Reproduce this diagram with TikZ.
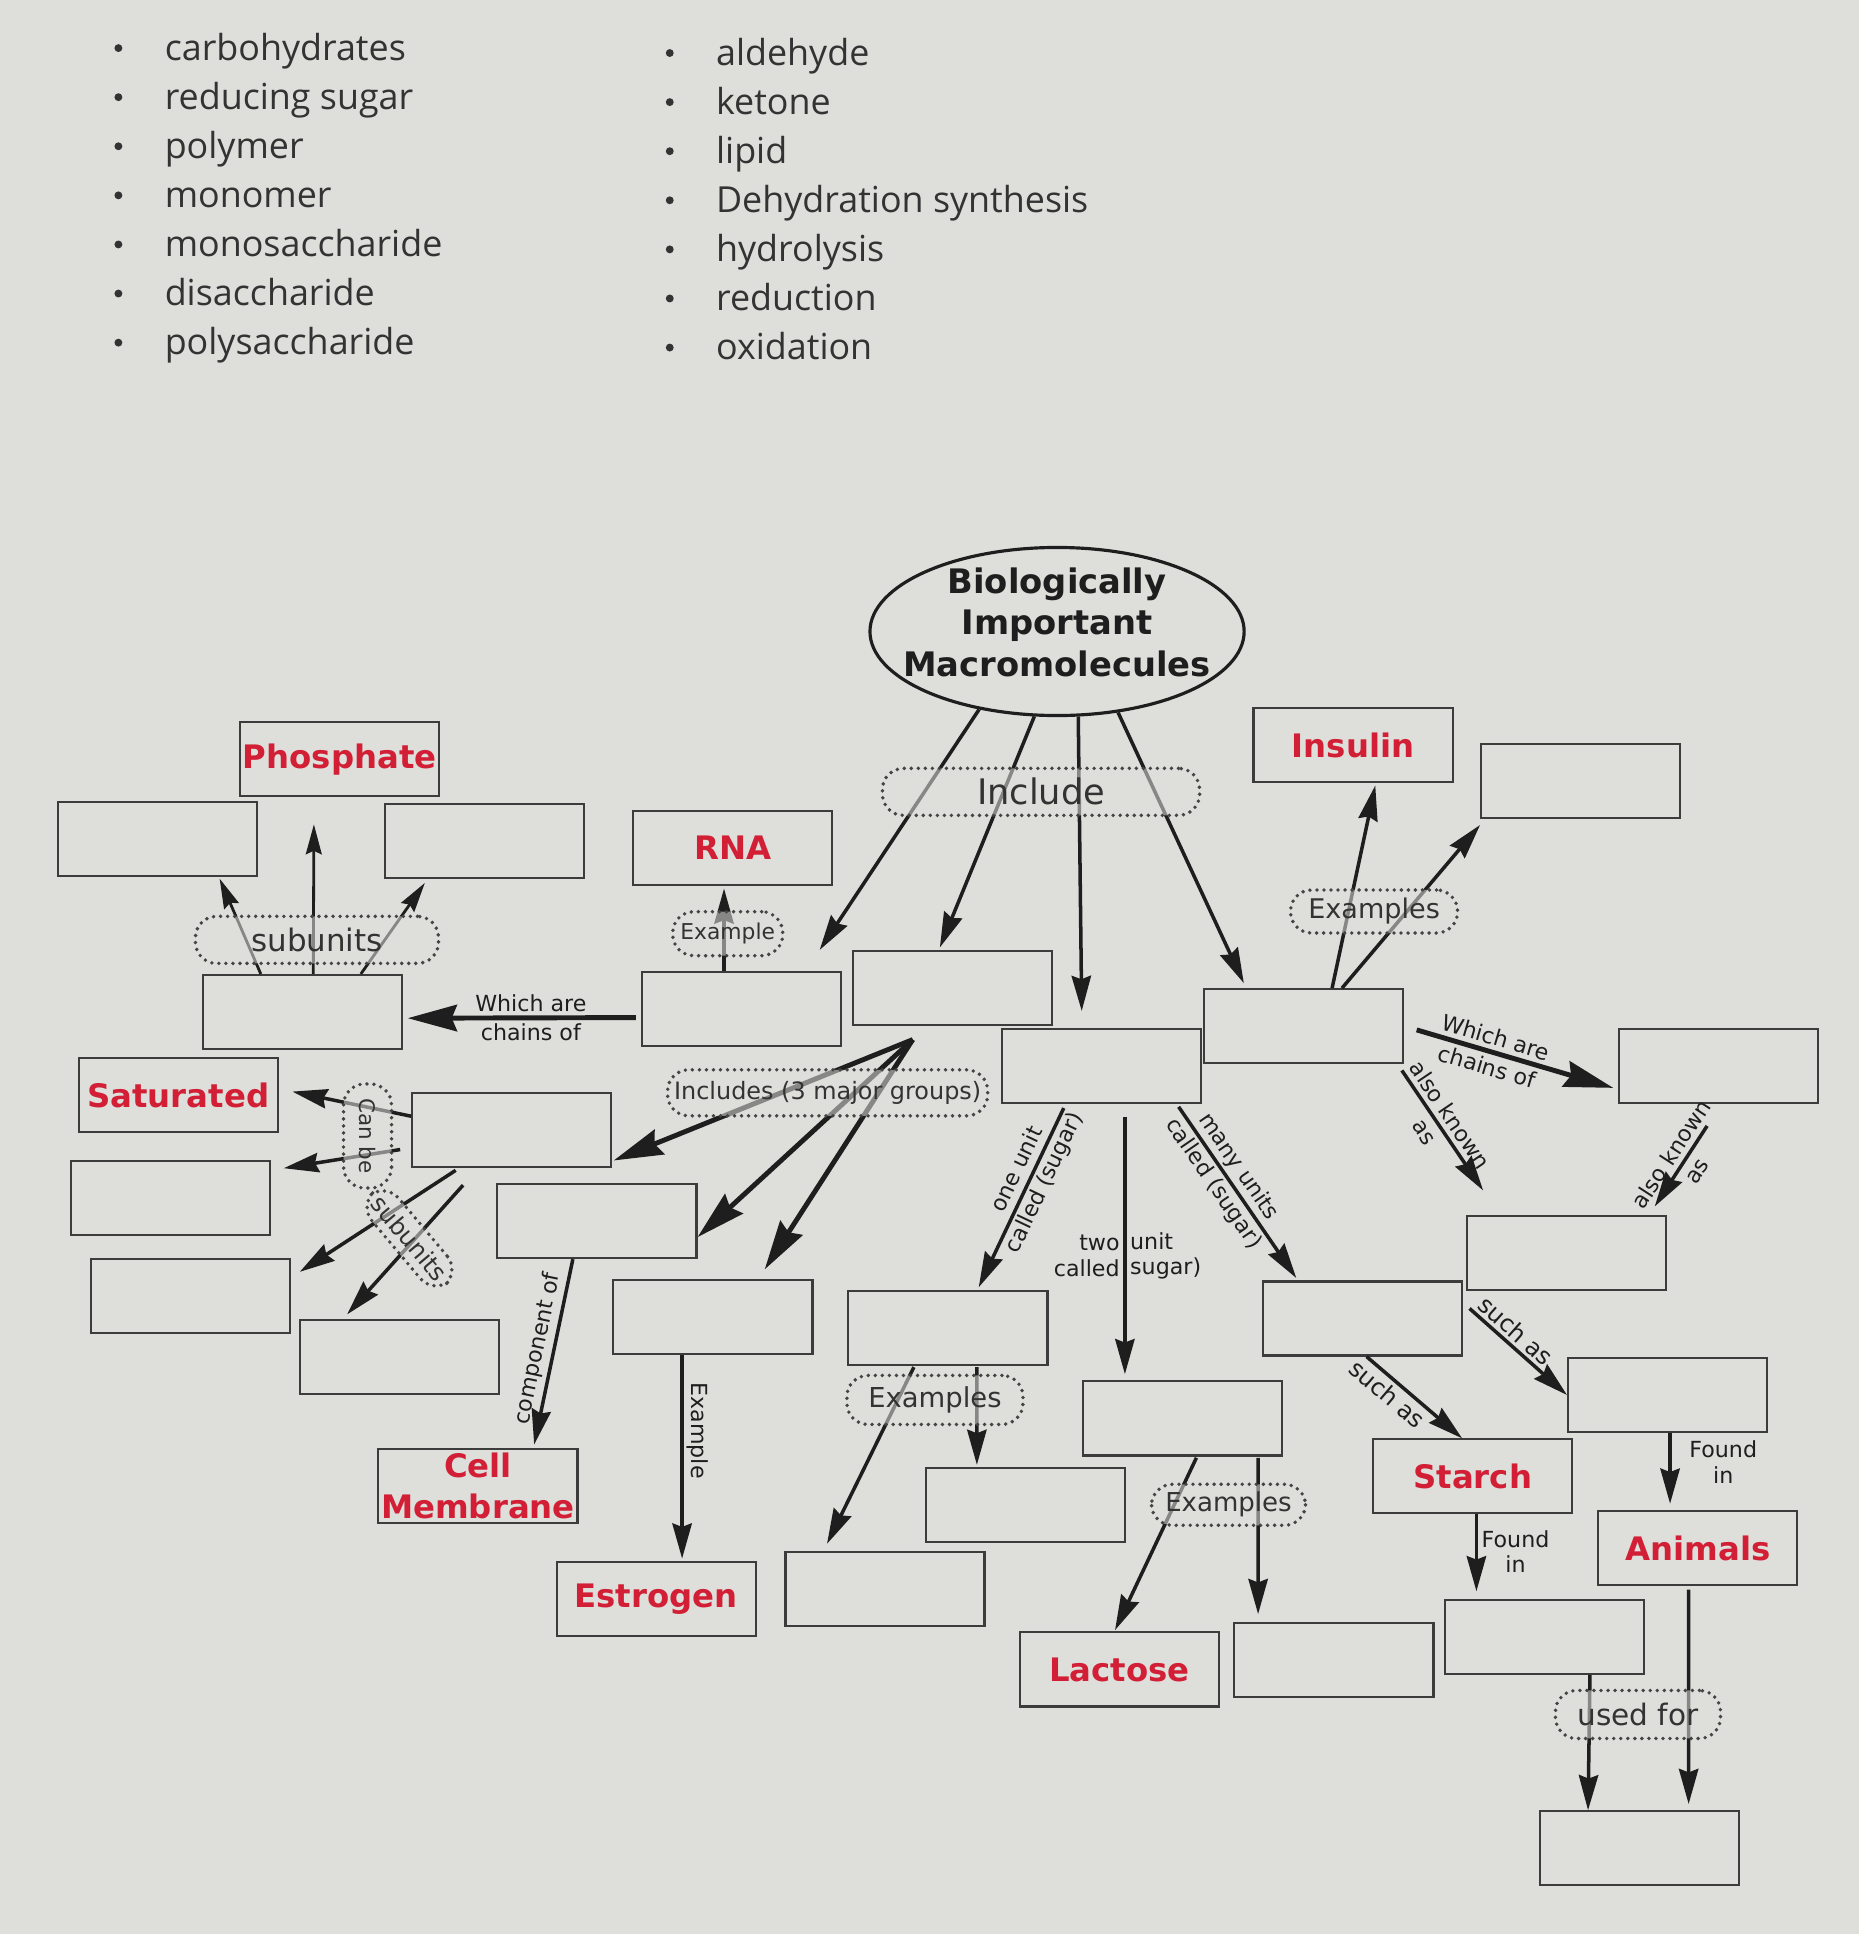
\documentclass[tikz,border=0pt]{standalone}
\usepackage{fontspec}
\setmainfont{DejaVu Sans}
\newfontfamily\listfont{Open Sans}
\usetikzlibrary{arrows.meta,positioning,calc,shapes.geometric}
\definecolor{MapBg}{HTML}{DEDFDB}
\definecolor{MapLine}{HTML}{3C3C3C}
\definecolor{MapRed}{HTML}{D21F35}
\definecolor{MapText}{HTML}{1E1E1E}
\definecolor{MapSoft}{HTML}{333333}
\definecolor{MapDots}{HTML}{444444}

\begin{document}
\begin{tikzpicture}[x=0.012336cm,y=-0.012336cm,
    blank/.style={draw=MapLine,line width=0.6pt,minimum width=1.99cm,
                  minimum height=0.74cm,inner sep=0pt},
    term/.style={blank,text=MapRed,align=center,
                 font=\fontsize{9.2}{11.6}\selectfont\bfseries},
    link/.style={draw=MapDots,line width=1.1pt,dash pattern=on 0pt off 2pt,
                 line cap=round,rounded corners=6pt,fill=MapBg,fill opacity=0.55,
                 text opacity=1,text=MapSoft,inner sep=0pt},
    flow/.style={-{Stealth[length=10pt,width=5.5pt,inset=1pt]},line width=1pt,draw=MapText},
    heavy/.style={flow,-{Stealth[length=14pt,width=7.5pt,inset=1.5pt]},line width=1.4pt},
    fine/.style={flow,-{Stealth[length=8.5pt,width=4.5pt,inset=1pt]},line width=0.8pt},
    tag/.style={font=\fontsize{6.3}{7.2}\selectfont,text=MapText,inner sep=1pt,align=center},
    pair/.style={tag,font=\fontsize{6.3}{8.6}\selectfont,inner sep=0pt},
    item/.style={font=\listfont\fontsize{10.2}{12}\selectfont,text=MapSoft,
                 anchor=base west,inner sep=0pt}]
  % background and word bank
  \fill[MapBg] (0,0) rectangle (1507,1568);
  \foreach \w [count=\i] in {carbohydrates,reducing sugar,polymer,monomer,
      monosaccharide,disaccharide,polysaccharide}{
    \fill[MapSoft] (96,{39+39.8*(\i-1)}) circle[radius=3.2];
    \node[item] (wordL\i) at (133,{49+39.8*(\i-1)}) {\w};
  }
  \foreach \w [count=\i] in {aldehyde,ketone,lipid,Dehydration synthesis,
      hydrolysis,reduction,oxidation}{
    \fill[MapSoft] (543,{43+39.8*(\i-1)}) circle[radius=3.2];
    \node[item] (wordR\i) at (580,{53+39.8*(\i-1)}) {\w};
  }

  % concept map
  \node[draw=MapText,line width=0.9pt,ellipse,minimum width=3.74cm,minimum height=1.68cm,
        inner sep=0pt,label={[align=center,text=MapText,yshift=2.6pt,
        font=\fontsize{9.6}{11.9}\selectfont\bfseries]center:Biologically\\Important\\Macromolecules}]
        (mm) at (857,512) {};
  \node[term]  (phos)     at (275.5,615.5)  {Phosphate};
  \node[blank] (sugarL)   at (127.5,680.5)  {};
  \node[blank] (baseR)    at (393,682)      {};
  \node[term]  (rna)      at (594,687.5)    {RNA};
  \node[term]  (insulin)  at (1097,604)     {Insulin};
  \node[blank] (hormone)  at (1281.5,633)   {};
  \node[blank] (nucleo)   at (245,820.5)    {};
  \node[blank] (nucleic)  at (601,818)      {};
  \node[blank] (lipid)    at (772,801)      {};
  \node[blank] (carb)     at (893,864.5)    {};
  \node[blank] (protein)  at (1057,832)     {};
  \node[term]  (sat)      at (144.5,888)    {Saturated};
  \node[blank] (fatty)    at (415,916)      {};
  \node[blank] (unsat)    at (138.5,971)    {};
  \node[blank] (glycerol) at (154.5,1051)   {};
  \node[blank] (acid)     at (324,1100.5)   {};
  \node[blank] (phosph)   at (484,990)      {};
  \node[blank] (steroid)  at (578,1068)     {};
  \node[blank] (amino)    at (1393.5,864)   {};
  \node[blank] (peptide)  at (1270,1016)    {};
  \node[blank] (mono)     at (768.5,1076.5) {};
  \node[blank] (di)       at (958.5,1150)   {};
  \node[blank] (poly)     at (1104.5,1069)  {};
  \node[blank] (glycogen) at (1352,1131)    {};
  \node[term]  (starch)   at (1194,1197)    {Starch};
  \node[term]  (animals)  at (1376.5,1255)  {Animals};
  \node[blank] (monoA)    at (831.5,1220.5) {};
  \node[blank] (monoB)    at (717.5,1288.5) {};
  \node[term]  (cell)     at (387.5,1205)   {Cell\\Membrane};
  \node[term]  (estrogen) at (532,1296.5)   {Estrogen};
  \node[term]  (lactose)  at (907.5,1353.5) {Lactose};
  \node[blank] (diB)      at (1081.5,1345.5){};
  \node[blank] (plants)   at (1252.5,1327)  {};
  \node[blank] (energy)   at (1329.5,1498.5){};

  % from the title
  \draw[flow] (mm.225) -- ($(nucleic.north east)+(-18,-17)$);
  \draw[flow] (mm.255) -- ($(lipid.north)+(-10,-2)$);
  \draw[flow] (mm.284) -- ($(carb.north)+(-16,-14)$);
  \draw[flow] (mm.307) -- ($(protein.north west)+(33,-4)$);

  % proteins
  \draw[flow] ($(protein.north)+(23,0)$) -- ($(insulin.south)+(18,2)$);
  \draw[flow] ($(protein.north)+(31,0)$) -- ($(hormone.south west)+(0,5)$);
  \draw[heavy] ($(protein.east)+(10,3)$) -- node[pair,pos=.38,sloped]{Which are\\chains of}
    ($(amino.west)+(-4,18)$);
  \draw[flow] ($(protein.south east)+(-2,5)$) -- node[pair,pos=.44,sloped]{also known\\as}
    ($(peptide.north west)+(14,-20)$);
  \draw[flow] ($(amino.south)+(-9.5,18)$) -- node[pair,pos=.45,sloped]{also known\\as}
    ($(peptide.north east)+(-10,-7)$);
  \draw[flow] ($(peptide.south west)+(3,14)$) -- node[tag,pos=.38,sloped,above,
    font=\fontsize{6.8}{8}\selectfont]{such as} (glycogen.west);
  \draw[flow] ($(poly.south west)+(85,0)$) -- node[tag,pos=.32,sloped,below,
    font=\fontsize{6.8}{8}\selectfont]{such as} ($(starch.north west)+(73,0)$);
  \draw[flow] ($(glycogen.south)+(2,0)$) -- node[tag,pos=.41,right=4pt]{Found\\in}
    ($(animals.north)+(-22.5,-5)$);
  \draw[flow] ($(starch.south)+(3,0)$) -- node[tag,pos=.48,right]{Found\\in}
    ($(plants.north)+(-55.5,-6)$);
  \draw[flow] ($(plants.south east)+(-45,0)$) -- ($(energy.north)+(-42,0)$);
  \draw[flow] ($(animals.south)+(-7.5,3)$) -- ($(energy.north east)+(-42,-5)$);

  % carbohydrates
  \draw[flow] ($(carb.south west)+(51,3)$) -- node[pair,pos=.38,sloped]{one unit\\called (sugar)}
    ($(mono.north)+(25,-2)$);
  \draw[flow] ($(carb.south)+(19,10)$) -- node[tag,pos=.54,left,align=right]{two\\called}
    node[tag,pos=.54,right,align=left]{unit\\sugar)} ($(di.north)+(-46.5,-5)$);
  \draw[flow] ($(carb.south east)+(-19,2)$) -- node[pair,pos=.4,sloped]{many units\\called (sugar)}
    ($(poly.north west)+(28,-2)$);
  \draw[flow] ($(mono.south west)+(54,1)$) -- ($(monoB.north)+(-47,-6)$);
  \draw[flow] ($(mono.south)+(23.5,1)$) -- ($(monoA.north)+(-39.5,-2)$);
  \draw[flow] ($(di.south)+(11.5,1)$) -- ($(lactose.north)+(-3.5,-1)$);
  \draw[flow] ($(di.south)+(61.5,1)$) -- ($(diB.north)+(-61.5,-6)$);

  % nucleic acids
  \draw[flow] ($(nucleic.north)+(-14,0)$) -- ($(rna.south)+(-7,2)$);
  \draw[heavy] ($(nucleic.west)+(-4,7)$) -- node[tag,pos=.46,above]{Which are}
    node[tag,pos=.46,below]{chains of} ($(nucleo.east)+(4,5)$);
  \draw[fine] ($(nucleo.north west)+(48,0)$) -- ($(sugarL.south east)+(-31,1)$);
  \draw[fine] ($(nucleo.north)+(9,0)$) -- ($(phos.south)+(-21,22)$);
  \draw[fine] ($(nucleo.north east)+(-34,0)$) -- ($(baseR.south west)+(33,3)$);

  % lipids
  \draw[heavy] ($(lipid.south)+(-32,11)$) -- ($(fatty.south east)+(1,-6)$);
  \draw[heavy] ($(lipid.south)+(-32,11)$) -- ($(phosph.east)+(0,13)$);
  \draw[heavy] ($(lipid.south)+(-32,11)$) -- ($(steroid.north)+(42,-8)$);
  \draw[flow] ($(fatty.west)+(0,-11)$) -- ($(sat.east)+(11,-3)$);
  \draw[flow] ($(fatty.west)+(-9,16)$) -- ($(unsat.north east)+(10,7)$);
  \draw[flow] ($(fatty.south west)+(36,2)$) -- ($(glycerol.north east)+(7,11)$);
  \draw[flow] ($(fatty.south west)+(42,14)$) -- ($(acid.north west)+(39,-4)$);
  \draw[flow] ($(phosph.south west)+(62,0)$) -- node[tag,pos=.5,sloped,above]{component of}
    ($(cell.north east)+(-36,-3)$);
  \draw[flow] ($(steroid.south)+(-25,0)$) -- node[tag,pos=.37,rotate=-90,anchor=south]{Example}
    ($(estrogen.north)+(21,-2)$);

  % dotted linking words
  \node[link,minimum width=3.17cm,minimum height=0.47cm,font=\fontsize{10}{12}\selectfont]
    (include) at (844,642) {Include};
  \node[link,minimum width=2.43cm,minimum height=0.47cm,font=\fontsize{8.8}{10}\selectfont]
    (subA) at (257,762) {subunits};
  \node[link,minimum width=1.10cm,minimum height=0.44cm,font=\fontsize{6.2}{7}\selectfont]
    (exRna) at (590,757) {Example};
  \node[link,minimum width=1.67cm,minimum height=0.43cm,font=\fontsize{7.7}{9}\selectfont]
    (exProt) at (1114,739) {Examples};
  \node[link,minimum width=3.20cm,minimum height=0.46cm,font=\fontsize{6.8}{8}\selectfont]
    (groups) at (671,886) {Includes (3 major groups)};
  \node[link,minimum width=1.04cm,minimum height=0.48cm,rotate=-90,
    font=\fontsize{6.1}{7}\selectfont] (canbe) at (298,921) {Can be};
  \node[link,minimum width=1.17cm,minimum height=0.35cm,rotate=-50,
    font=\fontsize{6.9}{8}\selectfont] (subB) at (332,1004) {subunits};
  \node[link,minimum width=1.76cm,minimum height=0.49cm,font=\fontsize{7.8}{9}\selectfont]
    (exMono) at (758,1135) {Examples};
  \node[link,minimum width=1.54cm,minimum height=0.41cm,font=\fontsize{7.4}{9}\selectfont]
    (exDi) at (996,1220) {Examples};
  \node[link,minimum width=1.65cm,minimum height=0.48cm,font=\fontsize{8.4}{10}\selectfont]
    (usedFor) at (1328,1390) {used for};
\end{tikzpicture}
\end{document}
